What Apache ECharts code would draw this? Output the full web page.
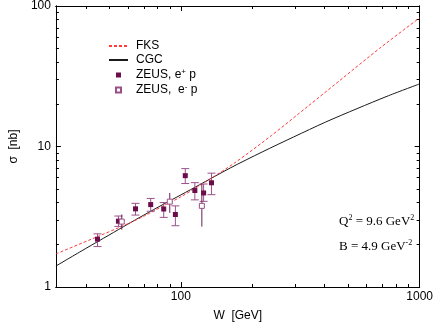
<!DOCTYPE html>
<html><head><meta charset="utf-8">
<script src="https://cdn.jsdelivr.net/npm/echarts@6/dist/echarts.min.js"></script>
<style>html,body{margin:0;padding:0;background:#fff}#c{width:436px;height:327px}</style>
</head><body><div id="c"></div>
<script>
// Curves (W in GeV, sigma in nb)
const fksW = [30, 45, 60, 70, 85, 100, 130, 170, 240, 340, 480, 680, 1000];
const fks  = [1.72, 2.29, 2.82, 3.19, 3.80, 4.38, 5.75, 7.75, 12.0, 19.3, 31.0, 50.0, 82.4];
const cgcW = [30, 40, 50, 60, 70, 85, 100, 120, 161, 219, 297, 403, 547, 741, 1000];
const cgc  = [1.41, 1.88, 2.34, 2.80, 3.25, 3.90, 4.52, 5.35, 7.03, 9.14, 11.7, 14.9, 18.6, 23.0, 27.9];

// ZEUS e+ p
const wEp   = [44.8, 54.8, 64.6, 74.8, 84.8, 94.9, 104.4, 114.5, 124.6, 134.4];
const sEp   = [2.19, 2.94, 3.60, 3.86, 3.59, 3.28, 6.20, 4.86, 4.67, 5.52];
const loEp  = [1.94, 2.70, 3.25, 3.46, 3.13, 2.73, 5.45, 4.17, 4.07, 4.54];
const hiEp  = [2.39, 3.20, 3.94, 4.27, 3.99, 3.78, 6.96, 5.53, 5.41, 6.46];
// ZEUS e- p
const wEm   = [56.6, 89.9, 122.5];
const sEm   = [2.92, 4.05, 3.78];
const loEm  = [2.56, 3.37, 2.69];
const hiEm  = [3.28, 4.67, 5.41];

// Ticks
const xMajor = [100, 1000];
const xMinor = [40, 50, 60, 70, 80, 90, 200, 300, 400, 500, 600, 700, 800, 900];
const yMajor = [1, 10, 100];
const yMinor = [2, 3, 4, 5, 6, 7, 8, 9, 20, 30, 40, 50, 60, 70, 80, 90];

const FONT = 'Liberation Sans, Arial, sans-serif';
const SERIF = 'Liberation Serif, Times New Roman, serif';
const zip = (a, b) => a.map((v, i) => [v, b[i]]);
const zip3 = (a, b, c) => a.map((v, i) => [v, b[i], c[i]]);
const fmt = v => String(Math.round(v));

function xAx(pos, ticks, len, labels, name) {
  return {
    type: 'log', logBase: 10, min: 30, max: 1000, position: pos,
    name: name || '', nameLocation: 'middle', nameGap: 23,
    nameTextStyle: {fontSize: 12, fontFamily: FONT, color: '#000'},
    axisLine: {show: true, lineStyle: {color: '#000', width: 1}},
    axisTick: {show: true, inside: true, length: len, customValues: ticks, lineStyle: {color: '#000'}},
    axisLabel: {show: !!labels, customValues: labels || [], margin: 4, fontSize: 12, fontFamily: FONT, color: '#000', formatter: fmt},
    splitLine: {show: false}, minorTick: {show: false}
  };
}
function yAx(pos, ticks, len, labels, name) {
  return {
    type: 'log', logBase: 10, min: 1, max: 100, position: pos,
    name: name || '', nameLocation: 'middle', nameGap: 27,
    nameTextStyle: {fontSize: 12, fontFamily: FONT, color: '#000'},
    axisLine: {show: true, lineStyle: {color: '#000', width: 1}},
    axisTick: {show: true, inside: true, length: len, customValues: ticks, lineStyle: {color: '#000'}},
    axisLabel: {show: !!labels, customValues: labels || [], margin: 5, fontSize: 12, fontFamily: FONT, color: '#000', formatter: fmt},
    splitLine: {show: false}, minorTick: {show: false}
  };
}

function errItem(color, cap) {
  return function (params, api) {
    const x = api.value(0), lo = api.value(1), hi = api.value(2);
    const p1 = api.coord([x, lo]), p2 = api.coord([x, hi]);
    const st = {stroke: color, lineWidth: 1};
    const ch = [{type: 'line', shape: {x1: p1[0], y1: p1[1], x2: p2[0], y2: p2[1]}, style: st}];
    if (cap) {
      ch.push({type: 'line', shape: {x1: p1[0] - cap, y1: p1[1], x2: p1[0] + cap, y2: p1[1]}, style: st});
      ch.push({type: 'line', shape: {x1: p2[0] - cap, y1: p2[1], x2: p2[0] + cap, y2: p2[1]}, style: st});
    }
    return {type: 'group', children: ch};
  };
}

const chart = echarts.init(document.getElementById('c'), null, {renderer: 'canvas'});
const sq = 'path://M0,0H10V10H0Z';
const supRich = {
  a: {fontSize: 13, fontFamily: SERIF, fill: '#000', lineHeight: 16},
  s: {fontSize: 8, fontFamily: SERIF, fill: '#000', verticalAlign: 'top', lineHeight: 16}
};
chart.setOption({
  animation: false,
  backgroundColor: '#fff',
  grid: {left: 39, right: 13, top: 6, bottom: 29},
  xAxis: [
    xAx('bottom', xMajor, 5, xMajor, 'W  [GeV]'),
    xAx('bottom', xMinor, 3),
    xAx('top', xMajor, 5),
    xAx('top', xMinor, 3)
  ],
  yAxis: [
    yAx('left', yMajor, 5, yMajor, 'σ  [nb]'),
    yAx('left', yMinor, 3),
    yAx('right', yMajor, 5),
    yAx('right', yMinor, 3)
  ],
  legend: {
    orient: 'vertical', left: 103, top: 35, itemWidth: 19, itemHeight: 5, itemGap: 2,
    selectedMode: false,
    textStyle: {fontSize: 12, fontFamily: FONT, color: '#000', padding: [0, 0, 0, 3],
      rich: {
        n: {fontSize: 12, fontFamily: FONT, lineHeight: 14},
        s: {fontSize: 8, fontFamily: FONT, verticalAlign: 'top', lineHeight: 14}
      }},
    formatter: function (name) {
      if (name === 'ZEUS, e+ p') return '{n|ZEUS, e}{s|+}{n| p}';
      if (name === 'ZEUS, e- p') return '{n|ZEUS,  e}{s|-}{n| p}';
      return '{n|' + name + '}';
    },
    data: [
      {name: 'FKS', itemStyle: {opacity: 0}},
      {name: 'CGC', itemStyle: {opacity: 0}},
      {name: 'ZEUS, e+ p', icon: sq},
      {name: 'ZEUS, e- p', icon: sq}
    ]
  },
  graphic: [
    {type: 'text', left: 339, top: 214, style: {text: '{a|Q}{s|2}{a| = 9.6 GeV}{s|2}', rich: supRich}},
    {type: 'text', left: 339, top: 239, style: {text: '{a|B = 4.9 GeV}{s|-2}', rich: supRich}}
  ],
  series: [
    {name: 'FKS', type: 'line', data: zip(fksW, fks), smooth: 0.3, symbol: 'none', showSymbol: false,
      lineStyle: {color: '#ff3b3b', width: 1, type: [3, 2]}, itemStyle: {color: '#ff3b3b', opacity: 0}, z: 3},
    {name: 'CGC', type: 'line', data: zip(cgcW, cgc), smooth: 0.3, symbol: 'none', showSymbol: false,
      lineStyle: {color: '#1a1a1a', width: 1}, itemStyle: {color: '#1a1a1a', opacity: 0}, z: 2},
    {name: 'errEp', type: 'custom', data: zip3(wEp, loEp, hiEp), renderItem: errItem('#9b5289', 4),
      encode: {x: 0, y: [1, 2]}, z: 4, silent: true},
    {name: 'errEm', type: 'custom', data: zip3(wEm, loEm, hiEm), renderItem: errItem('#6b1f55', 0),
      encode: {x: 0, y: [1, 2]}, z: 4, silent: true},
    {name: 'ZEUS, e+ p', type: 'scatter', data: zip(wEp, sEp), symbol: 'rect', symbolSize: 5,
      itemStyle: {color: '#6b0d4b', opacity: 1}, z: 5},
    {name: 'ZEUS, e- p', type: 'scatter', data: zip(wEm, sEm), symbol: 'rect', symbolSize: 5,
      itemStyle: {color: '#ffffff', borderColor: '#9a4f86', borderWidth: 1, opacity: 1}, z: 5}
  ]
});
</script></body></html>
